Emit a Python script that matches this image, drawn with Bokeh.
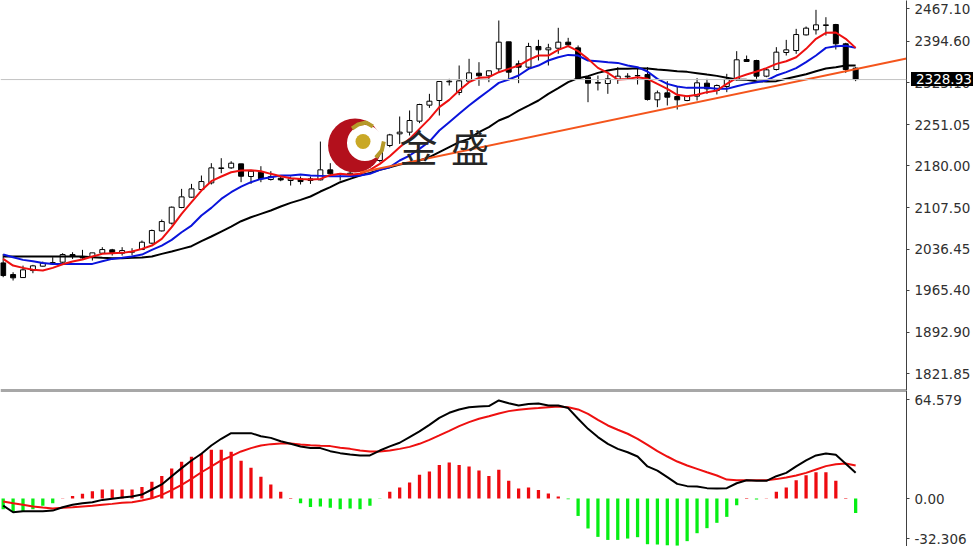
from bokeh.plotting import figure
from bokeh.layouts import column
from bokeh.models import Div, FixedTicker, Range1d, Span
from bokeh.core.properties import value
from bokeh.embed import file_html
from bokeh.resources import INLINE

opens = [2012.7,1992.6,1987.4,1999.5,2007,2011,2013.9,2027.1,2022.5,2022.5,2029.4,2035.2,2029.4,2031.1,2035.7,2046.7,2067.9,2081.2,2108.2,2126,2139.2,2150.7,2175.5,2176.6,2183.5,2161.7,2169.1,2156.5,2158.8,2154.8,2157.6,2154.8,2155.9,2173.2,2165.2,2165.7,2177.8,2180.7,2189.3,2215.2,2235.3,2238.2,2257.2,2284.8,2292.8,2325,2306.6,2326.1,2339.9,2335.4,2347.4,2394,2356.1,2350.3,2386,2380.2,2383,2393.4,2383.6,2333,2322.7,2322.1,2329,2333.6,2335.4,2337.6,2294,2306,2299.7,2292.8,2300.3,2322.7,2310,2317,2329,2363.5,2361.8,2334.8,2346.3,2375.6,2379,2406,2414.7,2422.2,2423.9,2390.6,2348.6]
closes = [1990.9,1986.9,2000.7,2007.6,2012.2,2013.3,2027.1,2023.7,2021.4,2030,2035.7,2030.6,2034,2032.3,2048.4,2068.5,2084,2108.8,2126.6,2140.4,2153,2176.6,2176.6,2184.7,2162.2,2170.9,2157.6,2161.7,2155.9,2157.6,2153,2157.6,2173.2,2166.3,2166.3,2167.4,2192.2,2192.2,2206.6,2233.5,2238.2,2258.3,2285.9,2291.6,2325.6,2326.1,2326.7,2340.5,2335.4,2344,2393.4,2341.7,2350.3,2386,2380.2,2383.6,2393.4,2388.8,2331.3,2322.7,2323.9,2330.2,2334.8,2334.8,2335.9,2294.5,2306,2298.5,2294,2299.7,2323.3,2312.9,2318.7,2329,2363,2360.1,2334.8,2345.7,2376.2,2380.2,2406.6,2417.6,2423.3,2423.3,2390.6,2346.3,2328.93]
highs = [2028,1996.6,2008,2009.3,2015,2022.5,2029.4,2031.1,2035.2,2030,2039.8,2036.9,2039.8,2038,2051.3,2070.2,2087.5,2109.9,2140.4,2149,2163.4,2184.7,2193.3,2188.1,2183.5,2173.2,2179.5,2170.9,2163.4,2161.7,2161.7,2161.7,2222,2184.7,2167.4,2172,2199.6,2197.9,2218,2235.3,2265.2,2275.6,2287.1,2304.3,2325.6,2330.2,2353.2,2364.7,2358.9,2344.5,2430.8,2394,2361.8,2392.3,2397.5,2390.6,2418.2,2400.9,2387.7,2334.2,2335.9,2337.6,2350.3,2339.9,2347.4,2350.3,2310,2326.2,2317,2301.4,2331.3,2330.2,2320.4,2338.8,2377.9,2370.4,2363,2347.4,2384.8,2397.4,2416.4,2420.4,2449.2,2436.5,2425,2392.3,2350.3]
lows = [1988,1982.3,1986.9,1994.9,2006.4,2011,2012.7,2019.6,2019.6,2016.8,2028.3,2025.4,2025.4,2025.4,2035.2,2045.5,2066.8,2078.9,2107,2124.9,2137.5,2147.9,2167.4,2174.9,2151.9,2149,2151.9,2154.8,2153.6,2146.1,2147.9,2149,2155,2163.4,2154.8,2163.4,2175,2176.6,2186.4,2212.3,2218,2232.4,2253.7,2280.1,2266.9,2318.7,2302,2324.4,2318.1,2324.4,2341.7,2330.2,2322.7,2347.4,2361.8,2353.2,2373.3,2384.8,2330.2,2289.9,2310.1,2304.3,2321.5,2329,2320.4,2292.8,2281.3,2284.2,2277.3,2291.6,2292.8,2304.3,2303.2,2307.2,2327.3,2360.1,2330.2,2333,2344.6,2370.4,2373.3,2404.9,2406.6,2404.9,2380.8,2340.5,2326.2]
ma_red = [2019.6,2008.1,2004.1,2000.7,1999.5,2004.1,2010.4,2015,2018.5,2023.7,2028.3,2029.4,2030,2032.3,2036.9,2042.6,2054.1,2074.3,2097.3,2117.4,2137.5,2153.6,2161.7,2169.1,2172,2172.6,2170.9,2166.3,2162.2,2158.8,2157.6,2156.5,2157.6,2164,2166.3,2164.6,2166.3,2173.2,2183.5,2196.7,2212.3,2226.6,2243.9,2261.1,2281.3,2293.9,2310,2324.4,2331.9,2333,2341.6,2347.4,2353.1,2362.9,2370.4,2370.4,2380.2,2386.5,2377.9,2364.6,2349.1,2340.5,2329,2330.1,2333,2330.2,2321.5,2312.9,2302.6,2300.3,2302.6,2307.2,2310,2321.5,2331.9,2337.6,2342.8,2348.6,2356,2360.6,2367.5,2381.9,2399.2,2409.5,2410.1,2399.2,2383.6]
ma_blue = [2027.1,2022.5,2017.9,2015.6,2012.7,2011,2011,2011,2011,2011,2015.6,2019.6,2021.4,2023.7,2027.1,2035.2,2042.6,2052.4,2065.6,2077.1,2094.4,2107.6,2123.1,2134.6,2144.4,2151.9,2157.6,2160.5,2163.4,2163.4,2165.1,2163.4,2162.8,2162.2,2162.2,2162.2,2163.4,2166.3,2173.2,2177.8,2189.3,2197.9,2209.4,2222,2241,2255.4,2269.8,2284.1,2297.4,2310,2323.2,2329,2335.9,2347.4,2353.1,2361.8,2367.5,2371.5,2370.4,2361.8,2360.6,2358.9,2357.7,2353.1,2350.3,2342.8,2330.2,2321.5,2317,2314.6,2314.6,2314.6,2312.9,2312.9,2317.5,2321.5,2324.4,2327.3,2335.9,2341.7,2348.6,2358.9,2370.4,2383.6,2386.5,2387.1,2383.6]
ma_black = [2023.6,2023.6,2023.6,2023.6,2023.6,2023.6,2023.6,2023.6,2023.6,2022.5,2021.4,2020.8,2020.8,2021.4,2022,2023.7,2028.3,2032.3,2036.9,2041.5,2050.1,2058.2,2066.8,2075.4,2084.6,2091.5,2097.3,2103,2109.9,2116.2,2121.4,2127.2,2135.8,2143.3,2151.9,2157.6,2163.4,2168,2173.2,2177.8,2182.4,2185.3,2189.3,2195,2203.7,2212.3,2220.9,2226.7,2238.2,2246.8,2258.3,2265.2,2275.5,2284.1,2292.8,2304.3,2314,2324.4,2331.3,2334.8,2340.5,2344.5,2347.4,2347.4,2348.6,2348,2346.3,2345.1,2343.4,2342.2,2340,2337.6,2335.3,2331.9,2329,2328.4,2326.2,2325.6,2326.2,2330.2,2334.2,2338.2,2343.4,2348,2350.3,2353.2,2353.2]
macd_line = [-4.6,-9,-8.3,-8.3,-8.3,-7.9,-5.7,-4.1,-3.1,-2.4,-0.9,-0.2,0.7,1.3,2.6,5.9,9.2,14.6,19.9,24.9,29.3,34.7,39.1,42.8,42.8,42.8,40.8,39.7,37.5,35.8,34.1,33,33,31,29.7,28.8,28.2,28.2,31.4,34.1,36.5,40.2,43.9,48.2,52.8,56.1,58.3,59.8,60.3,60.5,64.2,62.4,60.9,61.8,62.2,60.9,60.9,59.2,52.2,45.6,40.2,35.8,32.5,30.3,27.5,21,18.3,14,9.6,8.1,7.9,6.8,6.5,6.8,10,12,11.6,11.6,14.6,16.8,21,24.9,28.2,29.5,28.6,22.7,16.8]
signal_line = [-2,-3.1,-4.1,-5.2,-5.9,-6.5,-6.1,-5.7,-5.2,-4.8,-4.1,-3.5,-2.8,-2.4,-1.3,0.2,2.4,5.5,9,12.9,17.2,21,24.9,27.7,30.8,33,34.7,35.6,36,36,35.4,34.9,34.5,34.3,33.2,32.5,31.4,30.8,30.8,31.4,32.5,33.8,35.8,38.4,41.3,44.3,47.4,50,52.2,53.9,55.7,57.2,58.1,58.7,59.2,59.8,60.3,59.8,58.3,55.4,51.5,47.8,45,42.4,39.1,35.1,31,27.5,24.2,21.6,19.4,17.2,15.1,12.4,12,12,12,12,12.7,13.8,15.1,16.8,19,21.2,22.5,22.9,21.6]
histogram = [-7,-8.7,-8.3,-7,-4.8,-3.1,0.2,1.7,3.1,4.8,5.9,5.9,5.9,5.9,7.6,10.9,14.8,19.6,24,27.3,29.5,31.9,31.9,30.6,24.7,20.1,14.2,9.2,4.4,0.4,-3.1,-5.5,-5.2,-6.1,-7,-6.5,-7,-4.8,-0.2,4.4,7.2,10.5,15.5,17.7,22,23.6,22,21,18.3,14.8,18.8,11.6,6.5,7.2,5.5,3.3,1.3,-0.4,-11.4,-19.6,-25.1,-27.1,-27.1,-26.2,-25.3,-29.9,-30.1,-30.6,-30.8,-27.9,-22.7,-19.4,-15.9,-12,-4.4,0.4,-0.7,0.2,4.4,7.2,12,15.3,17.2,17.2,11.6,0.4,-9.4]

price_ticks = [2451.5,2394.6,2323.1,2251.05,2180.0,2107.5,2036.45,1965.4,1892.9,1821.85]
price_labels = ["2467.10","2394.60","2323.10","2251.05","2180.00","2107.50","2036.45","1965.40","1892.90","1821.85"]
macd_ticks = [64.579,0,-26.2]
macd_labels = ["64.579","0.00","-32.306"]
last_price = 2328.93
last_label = "2328.93"
trend_x = [36.0,91.13]
trend_y = [2168.6,2365.2]
logo_text = ["金","盛"]
logo_text_x = [41.9,47.1]
logo_text_y = 2216

n = len(closes)
idx = list(range(n))
XR = (-0.27,91.13)
AXIS_W = 65

def style_axis(p, ticks, labels):
    ax = p.yaxis[0]
    ax.ticker = FixedTicker(ticks=ticks)
    ax.major_label_overrides = dict(zip(ticks, labels))
    ax.major_label_text_font = "DejaVu Sans"
    ax.major_label_text_font_size = "13.5px"
    ax.major_label_text_color = "#303030"
    ax.major_label_standoff = 5
    ax.major_tick_out = 3
    ax.major_tick_in = 0
    ax.minor_tick_out = 0
    ax.minor_tick_in = 0
    ax.axis_line_color = "#404040"
    ax.major_tick_line_color = "#404040"
    p.xaxis.visible = False
    p.grid.visible = False
    p.outline_line_color = None
    p.min_border_left = 0
    p.min_border_top = 0
    p.min_border_bottom = 0
    p.min_border_right = AXIS_W

p = figure(width=973, height=390, output_backend="svg", toolbar_location=None,
           x_range=Range1d(*XR), y_range=Range1d(1792.6,2465.3), y_axis_location="right")
style_axis(p, price_ticks, price_labels)

p.add_layout(Span(location=last_price, dimension="width", line_color="#c4c4c4", line_width=1))
p.segment(idx, lows, idx, highs, line_color="black", line_width=1)
p.vbar(x=idx, top=[max(a,b) for a,b in zip(opens,closes)], bottom=[min(a,b) for a,b in zip(opens,closes)],
       width=0.5, fill_color=["white" if c>=o else "black" for o,c in zip(opens,closes)], line_color="black", line_width=1)

# logo
p.scatter([35.5],[2215.2], size=54, marker="circle", fill_color="#b3101c", line_color=None)
p.scatter([36.5],[2219.5], size=36, marker="circle", fill_color="white", line_color=None)
p.scatter([36.3],[2222], size=15, marker="circle", fill_color="#c9a826", line_color=None)
p.line([35.2,35.8,36.6,37.3],[2244.5,2251.4,2254.9,2248], line_color="#b59a2a", line_width=4)
p.line([38.4,38.2,37.6],[2222,2206.6,2194.5], line_color="#b59a2a", line_width=4)

p.line(idx, ma_black, line_color="black", line_width=2)
p.line(idx, ma_blue, line_color="#0a14dc", line_width=2)
p.line(idx, ma_red, line_color="#ee1010", line_width=2)
p.line(trend_x, trend_y, line_color="#f4551c", line_width=2)
p.text(logo_text_x, [logo_text_y]*2, text=logo_text, text_font=value("Noto Sans CJK SC"), text_font_size="38px",
       text_color="#262626", text_align="center", text_baseline="middle")
p.add_layout(Span(location=1792.6, dimension="width", line_color="#505050", line_width=2))

q = figure(width=973, height=156, output_backend="svg", toolbar_location=None,
           x_range=Range1d(*XR), y_range=Range1d(-31.4,70.7), y_axis_location="right")
style_axis(q, macd_ticks, macd_labels)
q.vbar(x=idx, top=[max(v,0) for v in histogram], bottom=[min(v,0) for v in histogram], width=0.33,
       fill_color=["#ee0a10" if v>=0 else "#06ee14" for v in histogram], line_color=None)
q.line(idx, signal_line, line_color="#ee1010", line_width=2)
q.line(idx, macd_line, line_color="black", line_width=2)
q.add_layout(Span(location=70.7, dimension="width", line_color="#505050", line_width=2))

# last-price badge, laid over the price axis
badge = Div(text=last_label, width=62, height=14, margin=0,
            styles={"position":"absolute","left":"911px","top":"72px","background-color":"black","color":"white",
                    "font-family":"DejaVu Sans","font-size":"13.5px","line-height":"14px","padding-left":"5px",
                    "box-sizing":"border-box","overflow":"hidden"})

layout = column(p, q, badge, spacing=0)
open("out.html", "w").write(file_html(layout, INLINE))
